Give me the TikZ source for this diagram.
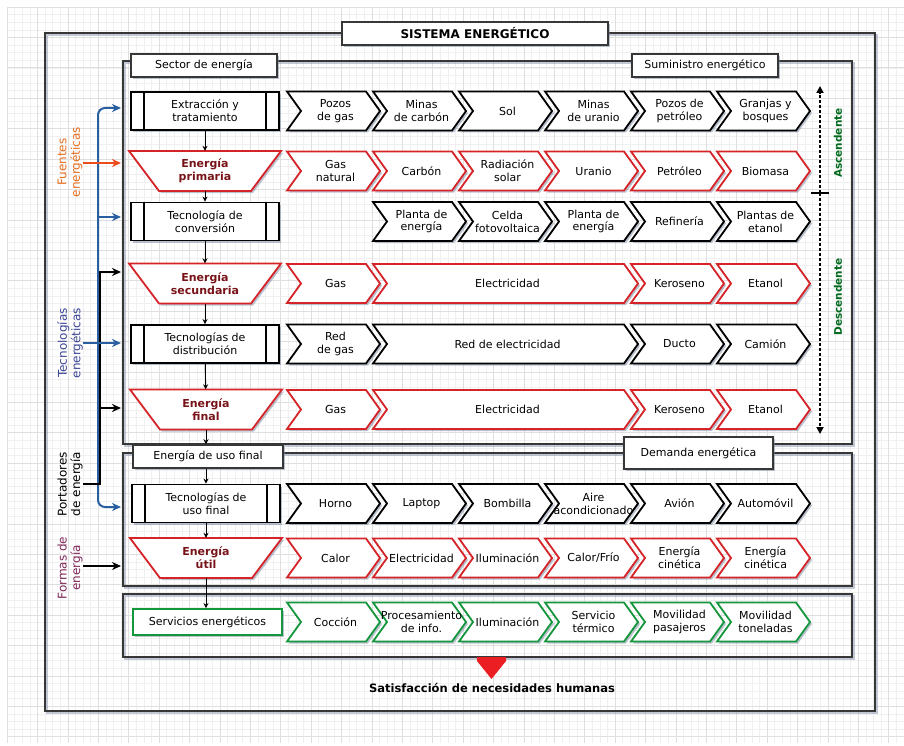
\documentclass[tikz,border=0pt]{standalone}
\usepackage{fontspec}
\setmainfont{DejaVu Sans}
\usetikzlibrary{arrows.meta,shadows}

\definecolor{redln}{RGB}{214,35,40}
\definecolor{darkred}{RGB}{120,20,25}
\definecolor{grn}{RGB}{20,150,60}
\definecolor{framec}{RGB}{55,55,55}
\definecolor{bluel}{RGB}{40,95,160}
\definecolor{orangel}{RGB}{236,75,30}
\definecolor{orangetxt}{RGB}{232,110,30}
\definecolor{tecblue}{RGB}{60,70,150}
\definecolor{formtxt}{RGB}{130,40,90}
\definecolor{labgreen}{RGB}{0,105,30}
\definecolor{shadowc}{RGB}{120,135,160}
\definecolor{arrowred}{RGB}{235,30,35}

\tikzset{
  shd/.style={drop shadow={shadow xshift=2pt,shadow yshift=-2pt,fill=shadowc,opacity=.5}},
  txt/.style={font=\fontsize{11}{12.8}\selectfont, align=center, inner sep=0pt},
  chblack/.style={draw=black, line width=1.8pt, fill=white, shd},
  chred/.style={draw=redln, line width=1.8pt, fill=white, shd},
  chgreen/.style={draw=grn, line width=1.8pt, fill=white, shd},
  procbox/.style={draw=black, line width=1.8pt, fill=white, minimum width=148pt, minimum height=38pt, txt, shd},
  trapst/.style={draw=redln, line width=1.8pt, fill=white, shd},
  traptxt/.style={txt, font=\fontsize{11}{12.8}\selectfont\bfseries, text=darkred},
  framest/.style={draw=framec, line width=1.8pt},
  frameshd/.style={draw=shadowc, line width=1.8pt, opacity=.45},
  labbox/.style={draw=framec, line width=1.5pt, fill=white, txt, minimum height=23pt, shd},
  dn/.style={-{Stealth[length=5pt,width=5pt]}, line width=0.9pt},
  arrB/.style={draw=bluel, line width=2pt, -{Stealth[length=9pt,width=8pt]}},
  arrK/.style={draw=black, line width=2pt, -{Stealth[length=9pt,width=8pt]}},
  arrO/.style={draw=orangel, line width=2pt, -{Stealth[length=9pt,width=8pt]}},
  sidelab/.style={txt, rotate=90, font=\fontsize{12}{13.5}\selectfont},
  dashv/.style={line width=2pt, dash pattern=on 3pt off 2pt, -{Triangle[length=7pt,width=7pt]}},
  gridminor/.style={draw=gray!12, line width=0.5pt},
  gridmajor/.style={draw=gray!25, line width=0.6pt},
}

\newcommand\chev[6]{%
  \path[#5] (#2,#4-19.5) -- (#3-14,#4-19.5) -- (#3,#4) -- (#3-14,#4+19.5) -- (#2,#4+19.5) -- (#2+14,#4) -- cycle;
  \node[txt] (#1) at ({(#2+#3)/2+2},#4) {#6};}
\newcommand\trapz[4]{%
  \path[trapst] (#2-76,#3-20) -- (#2+76,#3-20) -- (#2+46,#3+20) -- (#2-46,#3+20) -- cycle;
  \node[traptxt, minimum width=152pt, minimum height=40pt] (#1) at (#2,#3) {#4};}
\newcommand\proc[4]{%
  \node[procbox] (#1) at (#2,#3) {#4};
  \draw[line width=1.8pt] ([xshift=14pt]#1.north west) -- ([xshift=14pt]#1.south west)
     ([xshift=-14pt]#1.north east) -- ([xshift=-14pt]#1.south east);}

\begin{document}
\begin{tikzpicture}[x=1pt,y=-1pt]
\useasboundingbox (0,0) rectangle (904,746);
\fill[white] (0,0) rectangle (904,746);
% grid
\foreach \i in {0,...,117} \draw[gridminor] ({7+7.6*\i},7) -- ({7+7.6*\i},743);
\foreach \i in {0,...,96} \draw[gridminor] (7,{7+7.6*\i}) -- (904,{7+7.6*\i});
\foreach \i in {0,...,29} \draw[gridmajor] ({7+30.4*\i},7) -- ({7+30.4*\i},743);
\foreach \i in {0,...,24} \draw[gridmajor] (7,{7+30.4*\i}) -- (904,{7+30.4*\i});

% frames
\draw[frameshd] (47,35) rectangle (877,713);
\draw[framest] (45,33) rectangle (875,711);
\draw[frameshd] (125,63) rectangle (854,446);
\draw[framest] (123,61) rectangle (852,444);
\draw[frameshd] (125,455) rectangle (854,588);
\draw[framest] (123,453) rectangle (852,586);
\draw[frameshd] (125,596) rectangle (854,659);
\draw[framest] (123,594) rectangle (852,657);

% frame labels
\node[labbox, minimum width=266pt, font=\fontsize{12}{13}\selectfont\bfseries, line width=1.8pt] (title) at (475,33.5) {SISTEMA ENERGÉTICO};
\node[labbox, minimum width=146pt] (sector) at (204,65.5) {Sector de energía};
\node[labbox, minimum width=146pt] (sumin) at (705,65.5) {Suministro energético};
\node[labbox, minimum width=150pt] (efin) at (208,456.5) {Energía de uso final};
\node[labbox, minimum width=149pt, minimum height=32pt] (demanda) at (698.5,453) {Demanda energética};

% left column
\proc{ext}{205}{111}{Extracción y\\tratamiento}
\trapz{prim}{205}{171}{Energía\\primaria}
\proc{conv}{205}{221.5}{Tecnología de\\conversión}
\trapz{sec}{205}{283.5}{Energía\\secundaria}
\proc{dist}{205}{344}{Tecnologías de\\distribución}
\trapz{fin}{206}{409.5}{Energía\\final}
\proc{uso}{206}{503.5}{Tecnologías de\\uso final}
\trapz{util}{206}{558}{Energía\\útil}
\node[draw=grn, line width=1.8pt, fill=white, minimum width=149pt, minimum height=26pt, txt, shd] (serv) at (207.5,622) {Servicios energéticos};

% vertical flow arrows
\draw[dn] (ext) -- (prim);
\draw[dn] (prim) -- (conv);
\draw[dn] (conv) -- (sec);
\draw[dn] (sec) -- (dist);
\draw[dn] (dist) -- (fin);
\draw[dn] (fin.south) -- (fin.south |- efin.north);
\draw[dn] (efin.south -| uso.north) -- (uso.north);
\draw[dn] (uso) -- (util);
\draw[dn] (util.south) -- (util.south |- serv.north);

% row 1
\chev{r1a}{287}{380}{111}{chblack}{Pozos\\de gas}
\chev{r1b}{373}{466}{111}{chblack}{Minas\\de carbón}
\chev{r1c}{459}{552}{111}{chblack}{Sol}
\chev{r1d}{545}{638}{111}{chblack}{Minas\\de uranio}
\chev{r1e}{631}{724}{111}{chblack}{Pozos de\\petróleo}
\chev{r1f}{717}{810}{111}{chblack}{Granjas y\\bosques}
% row 2
\chev{r2a}{287}{380}{171}{chred}{Gas\\natural}
\chev{r2b}{373}{466}{171}{chred}{Carbón}
\chev{r2c}{459}{552}{171}{chred}{Radiación\\solar}
\chev{r2d}{545}{638}{171}{chred}{Uranio}
\chev{r2e}{631}{724}{171}{chred}{Petróleo}
\chev{r2f}{717}{810}{171}{chred}{Biomasa}
% row 3
\chev{r3b}{373}{466}{221.5}{chblack}{Planta de\\energía}
\chev{r3c}{459}{552}{221.5}{chblack}{Celda\\fotovoltaica}
\chev{r3d}{545}{638}{221.5}{chblack}{Planta de\\energía}
\chev{r3e}{631}{724}{221.5}{chblack}{Refinería}
\chev{r3f}{717}{810}{221.5}{chblack}{Plantas de\\etanol}
% row 4
\chev{r4a}{287}{380}{283.5}{chred}{Gas}
\chev{r4b}{373}{638}{283.5}{chred}{Electricidad}
\chev{r4e}{631}{724}{283.5}{chred}{Keroseno}
\chev{r4f}{717}{810}{283.5}{chred}{Etanol}
% row 5
\chev{r5a}{287}{380}{344}{chblack}{Red\\de gas}
\chev{r5b}{373}{638}{344}{chblack}{Red de electricidad}
\chev{r5e}{631}{724}{344}{chblack}{Ducto}
\chev{r5f}{717}{810}{344}{chblack}{Camión}
% row 6
\chev{r6a}{287}{380}{409.5}{chred}{Gas}
\chev{r6b}{373}{638}{409.5}{chred}{Electricidad}
\chev{r6e}{631}{724}{409.5}{chred}{Keroseno}
\chev{r6f}{717}{810}{409.5}{chred}{Etanol}
% row 7
\chev{r7a}{287}{380}{503.5}{chblack}{Horno}
\chev{r7b}{373}{466}{503.5}{chblack}{Laptop}
\chev{r7c}{459}{552}{503.5}{chblack}{Bombilla}
\chev{r7d}{545}{638}{503.5}{chblack}{Aire\\acondicionado}
\chev{r7e}{631}{724}{503.5}{chblack}{Avión}
\chev{r7f}{717}{810}{503.5}{chblack}{Automóvil}
% row 8
\chev{r8a}{287}{380}{558}{chred}{Calor}
\chev{r8b}{373}{466}{558}{chred}{Electricidad}
\chev{r8c}{459}{552}{558}{chred}{Iluminación}
\chev{r8d}{545}{638}{558}{chred}{Calor/Frío}
\chev{r8e}{631}{724}{558}{chred}{Energía\\cinética}
\chev{r8f}{717}{810}{558}{chred}{Energía\\cinética}
% row 9
\chev{r9a}{287}{380}{622}{chgreen}{Cocción}
\chev{r9b}{373}{466}{622}{chgreen}{Procesamiento\\de info.}
\chev{r9c}{459}{552}{622}{chgreen}{Iluminación}
\chev{r9d}{545}{638}{622}{chgreen}{Servicio\\térmico}
\chev{r9e}{631}{724}{622}{chgreen}{Movilidad\\pasajeros}
\chev{r9f}{717}{810}{622}{chgreen}{Movilidad\\toneladas}

% right dashed arrows
\coordinate (ascTop) at (820,86);
\coordinate (tick) at (820,193);
\coordinate (descBot) at (820,434);
\coordinate (tickL) at (811,193);
\coordinate (tickR) at (829,193);
\draw[dashv] (tick) -- (ascTop);
\draw[dashv] (tick) -- (descBot);
\draw[line width=2pt] (tickL) -- (tickR);
\node[txt, rotate=90, font=\fontsize{10.5}{12}\selectfont\bfseries, text=labgreen] (asc) at (838,143) {Ascendente};
\node[txt, rotate=90, font=\fontsize{10.5}{12}\selectfont\bfseries, text=labgreen] (desc) at (838,297) {Descendente};

% left side labels
\node[sidelab, text=orangetxt] (fuentes) at (70,162) {Fuentes\\energéticas};
\node[sidelab, text=tecblue] (tecen) at (70,343) {Tecnologías\\energéticas};
\node[sidelab, text=black] (port) at (70,484) {Portadores\\de energía};
\node[sidelab, text=formtxt] (formas) at (70,568) {Formas de\\energía};

\coordinate (busB) at (98,300);
\coordinate (busK) at (100,300);
\coordinate (bTop) at (121,108);
\coordinate (bConv) at (121,217);
\coordinate (bUso) at (121,507);
\coordinate (inF) at (121,163);
\coordinate (inT) at (121,343);
\coordinate (inSec) at (121,272);
\coordinate (inFin) at (121,408);
\coordinate (inU) at (121,566);

% blue bus
\draw[arrB, rounded corners=7pt, {Stealth[length=9pt,width=8pt]}-{Stealth[length=9pt,width=8pt]}]
  (bTop) -- (bTop -| busB) -- (bUso -| busB) -- (bUso);
\draw[arrB] (bConv -| busB) -- (bConv);
% black bus
\draw[arrK] (port.south) -- (port.south -| busK) -- (inSec -| busK) -- (inSec);
\draw[arrK] (inFin -| busK) -- (inFin);
% label arrows
\draw[arrO] (fuentes.south |- inF) -- (inF);
\draw[arrB] (tecen.south |- inT) -- (inT);
\draw[arrK] (formas.south |- inU) -- (inU);

% satisfaction
\path[fill=arrowred] (477,657) -- (506,657) -- (506,661) -- (491.5,679) -- (477,661) -- cycle;
\node[txt, font=\fontsize{11.5}{13}\selectfont\bfseries] (sat) at (492,688) {Satisfacción de necesidades humanas};
\end{tikzpicture}
\end{document}
